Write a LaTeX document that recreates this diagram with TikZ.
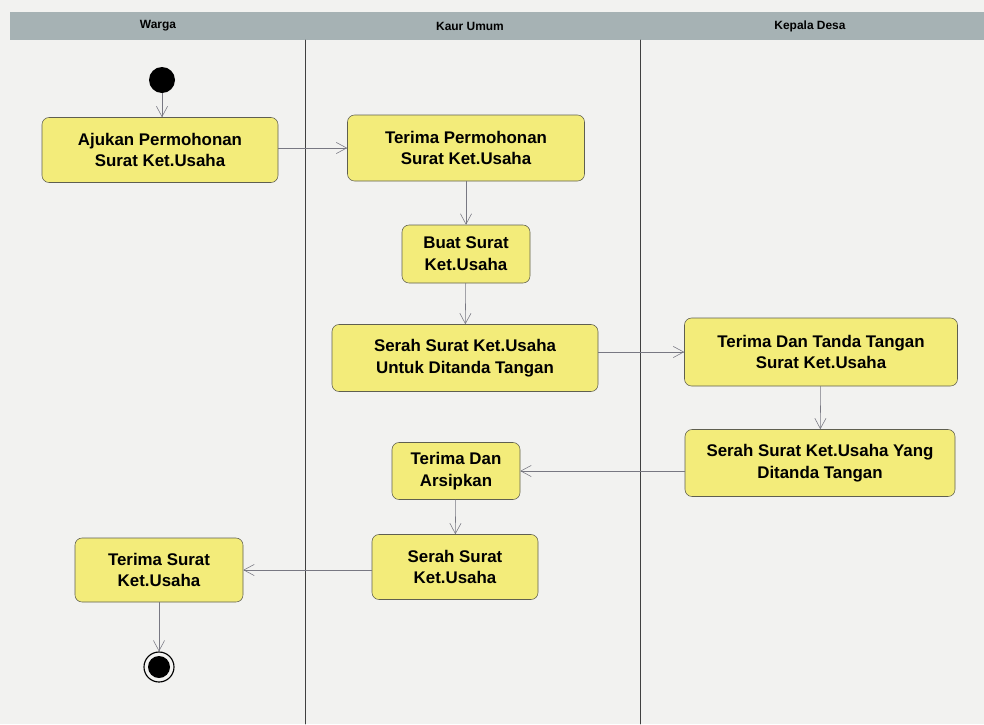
\documentclass[tikz,border=0pt]{standalone}
\usepackage{fontspec}
\setmainfont{Liberation Sans}
\usetikzlibrary{arrows.meta}
\definecolor{paper}{RGB}{242,242,240}
\definecolor{lanebar}{RGB}{166,178,180}
\definecolor{actfill}{RGB}{243,236,122}
\definecolor{actline}{RGB}{95,95,80}
\definecolor{flowline}{RGB}{120,120,130}
\begin{document}
\begin{tikzpicture}[x=0.025cm, y=-0.025cm, line cap=round, line join=round,
	>={Straight Barb[length=2.6mm, width=2.8mm]}]
	\tikzset{act/.style={draw=actline, fill=actfill, rounded corners=5pt, align=center,
			font=\fontsize{12}{15.5}\selectfont\bfseries, inner sep=2pt},
		lanename/.style={font=\fontsize{8.5}{10}\selectfont\bfseries},
		flow/.style={->, draw=flowline, thin}}
	\fill[paper] (0,0) rectangle (984,724);
	\useasboundingbox (0,0) rectangle (984,724);
	% swimlanes
	\fill[lanebar] (10,12) rectangle (984,40);
	\node[lanename] (warga) at (158,26) {Warga};
	\node[lanename] (kaur) at (470,26) {Kaur Umum};
	\node[lanename] (kades) at (810,26) {Kepala Desa};
	\draw[black!75] (305,40)--(305,724) (640,40)--(640,724);
	% activities
	\node[circle, fill=black, minimum size=26*0.025cm, inner sep=0pt] (start) at (162,80) {};
	\node[act, minimum width=236*0.025cm, minimum height=65*0.025cm] (ajukan) at (160,150) {Ajukan Permohonan\\Surat Ket.Usaha};
	\node[act, minimum width=237*0.025cm, minimum height=66*0.025cm] (terima) at (466,148) {Terima Permohonan\\Surat Ket.Usaha};
	\node[act, minimum width=128*0.025cm, minimum height=58*0.025cm] (buat) at (466,254) {Buat Surat\\Ket.Usaha};
	\node[act, minimum width=266*0.025cm, minimum height=67*0.025cm] (serah) at (465,358) {Serah Surat Ket.Usaha\\Untuk Ditanda Tangan};
	\node[act, minimum width=273*0.025cm, minimum height=68*0.025cm] (ttd) at (821,352) {Terima Dan Tanda Tangan\\Surat Ket.Usaha};
	\node[act, minimum width=270*0.025cm, minimum height=67*0.025cm] (serahttd) at (820,463) {Serah Surat Ket.Usaha Yang\\Ditanda Tangan};
	\node[act, minimum width=128*0.025cm, minimum height=57*0.025cm] (arsip) at (456,471) {Terima Dan\\Arsipkan};
	\node[act, minimum width=166*0.025cm, minimum height=65*0.025cm] (serahsurat) at (455,567) {Serah Surat\\Ket.Usaha};
	\node[act, minimum width=168*0.025cm, minimum height=64*0.025cm] (terimasurat) at (159,570) {Terima Surat\\Ket.Usaha};
	\node[circle, draw=black, thick, minimum size=30*0.025cm, inner sep=0pt] (end) at (159,667) {};
	\fill (end.center) circle (11*0.025cm);
	% flows
	\draw[flow] (start)--(start|-ajukan.north);
	\draw[flow] (ajukan.east|-terima)--(terima.west);
	\draw[flow] (terima)--(buat);
	\draw[flow] (buat)--(serah);
	\draw[flow] (serah.east|-ttd)--(ttd.west);
	\draw[flow] (ttd)--(serahttd);
	\draw[flow] (serahttd.west|-arsip)--(arsip.east);
	\draw[flow] (arsip)--(serahsurat);
	\draw[flow] (serahsurat.west|-terimasurat)--(terimasurat.east);
	\draw[flow] (terimasurat)--(end);
\end{tikzpicture}
\end{document}
